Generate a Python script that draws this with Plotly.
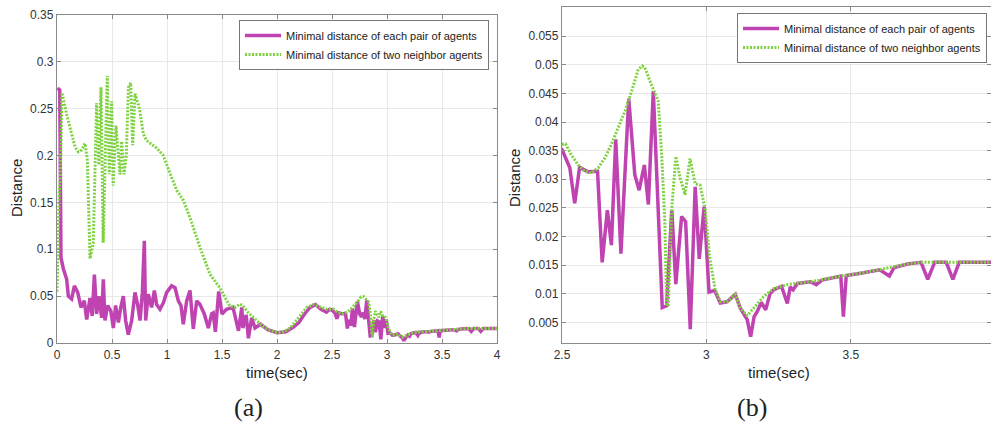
import plotly.graph_objects as go

# ---------------- data ----------------
t_pair = [0.005, 0.025, 0.032, 0.036, 0.058, 0.088, 0.103, 0.133, 0.158, 0.188, 0.218, 0.248,
          0.27, 0.30, 0.32, 0.34, 0.36, 0.38, 0.406, 0.421, 0.436, 0.46, 0.49, 0.512, 0.533,
          0.558, 0.58, 0.603, 0.624, 0.648, 0.679, 0.709, 0.733, 0.755, 0.776, 0.794, 0.806,
          0.83, 0.86, 0.885, 0.906, 0.936, 0.967, 0.997, 1.042, 1.073, 1.103, 1.127, 1.148,
          1.179, 1.209, 1.239, 1.27, 1.30, 1.339, 1.376, 1.406, 1.42, 1.44, 1.47, 1.50, 1.54,
          1.60, 1.65, 1.68, 1.69, 1.72, 1.74, 1.77, 1.80, 1.85, 1.92, 2.0, 2.08, 2.15, 2.2,
          2.25, 2.3, 2.35, 2.4, 2.45, 2.48,
          2.5, 2.527, 2.544, 2.561, 2.59, 2.623, 2.639, 2.657, 2.671, 2.686, 2.704, 2.731,
          2.752, 2.767, 2.785, 2.799, 2.816, 2.847, 2.862, 2.88, 2.894, 2.914, 2.928, 2.944,
          2.961, 2.975, 2.992, 3.009, 3.028, 3.048, 3.071, 3.10, 3.117, 3.141, 3.153, 3.165,
          3.176, 3.19, 3.205, 3.22, 3.233, 3.26, 3.28, 3.29, 3.30, 3.315, 3.36, 3.38, 3.40,
          3.465, 3.474, 3.484, 3.534, 3.60, 3.633, 3.65, 3.696, 3.743, 3.766, 3.79, 3.83,
          3.853, 3.875, 4.0]
d_pair = [0.272, 0.270, 0.160, 0.091, 0.079, 0.068, 0.050, 0.047, 0.061, 0.054, 0.038, 0.045,
          0.025, 0.048, 0.029, 0.073, 0.031, 0.050, 0.027, 0.068, 0.024, 0.040, 0.034, 0.016, 0.040,
          0.022, 0.038, 0.050, 0.024, 0.009, 0.024, 0.054, 0.041, 0.024, 0.054, 0.109, 0.024,
          0.052, 0.038, 0.056, 0.041, 0.036, 0.043, 0.054, 0.061, 0.059, 0.045, 0.040, 0.020,
          0.045, 0.056, 0.015, 0.045, 0.041, 0.031, 0.016, 0.031, 0.032, 0.012, 0.055, 0.031, 0.036,
          0.038, 0.013, 0.038, 0.016, 0.030, 0.005, 0.027, 0.016, 0.020, 0.014, 0.011, 0.012, 0.017, 0.022,
          0.031, 0.038, 0.041, 0.036, 0.033, 0.036,
          0.0352, 0.0320, 0.0258, 0.0321, 0.0313, 0.0314, 0.0155, 0.0246, 0.0185, 0.0370, 0.0170, 0.0441,
          0.0308, 0.0281, 0.0325, 0.0256, 0.0454, 0.0076, 0.0079, 0.0246, 0.0117, 0.0235, 0.0226, 0.0038,
          0.0287, 0.0161, 0.0252, 0.0103, 0.0106, 0.0084, 0.0086, 0.0099, 0.0075, 0.0055, 0.0025, 0.0060,
          0.0069, 0.0085, 0.0072, 0.0100, 0.0107, 0.0113, 0.0083, 0.0112, 0.0107, 0.0118, 0.0121, 0.0116, 0.0124,
          0.0131, 0.0060, 0.0132, 0.0136, 0.0142, 0.0131, 0.0146, 0.0152, 0.0155, 0.0125, 0.0155, 0.0155,
          0.0125, 0.0155, 0.0155]

t_nbr = [0.0, 0.02, 0.03, 0.045, 0.088, 0.133, 0.164, 0.194, 0.225, 0.255, 0.276, 0.30, 0.33,
         0.36, 0.38, 0.40, 0.42, 0.457, 0.475, 0.497, 0.51, 0.536, 0.555, 0.573, 0.588, 0.609,
         0.63, 0.649, 0.67, 0.688, 0.709, 0.75, 0.785, 0.815, 0.906, 0.967, 1.027, 1.088, 1.15,
         1.22, 1.30, 1.39, 1.48, 1.57, 1.62, 1.66, 1.69, 1.74, 1.79, 1.85, 1.92, 2.0, 2.06, 2.12,
         2.21, 2.27, 2.33, 2.4, 2.45,
         2.5, 2.512, 2.532, 2.556, 2.579, 2.602, 2.625, 2.648, 2.671, 2.694, 2.718, 2.741, 2.764,
         2.778, 2.787, 2.804, 2.822, 2.833, 2.845, 2.856, 2.862, 2.868, 2.88, 2.894, 2.909, 2.926,
         2.943, 2.961, 2.978, 2.995, 3.012, 3.03, 3.048, 3.071, 3.10, 3.117, 3.141, 3.164, 3.198,
         3.233, 3.28, 3.326, 3.384, 3.465, 3.534, 3.627, 3.696, 3.743, 4.0]
d_nbr = [0.055, 0.160, 0.175, 0.267, 0.244, 0.225, 0.209, 0.204, 0.206, 0.213, 0.195, 0.090, 0.107,
         0.256, 0.190, 0.273, 0.107, 0.285, 0.180, 0.258, 0.168, 0.232, 0.200, 0.180, 0.215, 0.180,
         0.200, 0.2726, 0.2775, 0.211, 0.266, 0.250, 0.223, 0.216, 0.208, 0.200, 0.181, 0.163, 0.152,
         0.130, 0.102, 0.0735, 0.059, 0.0395, 0.038, 0.0415, 0.040, 0.032, 0.027, 0.020, 0.014, 0.011,
         0.012, 0.016, 0.029, 0.038, 0.041, 0.038, 0.036,
         0.0361, 0.0362, 0.0343, 0.0325, 0.0314, 0.0311, 0.0320, 0.0337, 0.0361, 0.0390, 0.0419, 0.0454,
         0.0492, 0.0498, 0.0495, 0.0472, 0.0451, 0.0437, 0.0343, 0.0226, 0.0082, 0.0079, 0.0249, 0.0340,
         0.0302, 0.0273, 0.0336, 0.0292, 0.0290, 0.0249, 0.0160, 0.0108, 0.0086, 0.0086, 0.0099, 0.0075,
         0.0062, 0.0075, 0.0095, 0.0109, 0.0116, 0.0119, 0.0123, 0.0131, 0.0136, 0.0145, 0.0152, 0.0155,
         0.0155]

name_pair = "Minimal distance of each pair of agents"
name_nbr = "Minimal distance of two neighbor agents"

x_ticks_a = [0, 0.5, 1, 1.5, 2, 2.5, 3, 3.5, 4]
x_labels_a = ["0", "0.5", "1", "1.5", "2", "2.5", "3", "3.5", "4"]
y_ticks_a = [0, 0.05, 0.1, 0.15, 0.2, 0.25, 0.3, 0.35]
y_labels_a = ["0", "0.05", "0.1", "0.15", "0.2", "0.25", "0.3", "0.35"]
x_ticks_b = [2.5, 3, 3.5]
x_labels_b = ["2.5", "3", "3.5"]
y_ticks_b = [0.005, 0.01, 0.015, 0.02, 0.025, 0.03, 0.035, 0.04, 0.045, 0.05, 0.055]
y_labels_b = ["0.005", "0.01", "0.015", "0.02", "0.025", "0.03", "0.035", "0.04", "0.045", "0.05", "0.055"]

# ---------------- figure ----------------
W, H = 991, 424
MAG = "#c043b2"
GRN = "#7ed23f"
FONT = "Liberation Sans, Arial, sans-serif"

fig = go.Figure()
for xa, ya, lg in [("x", "y", "legend"), ("x2", "y2", "legend2")]:
    fig.add_trace(go.Scatter(x=t_pair, y=d_pair, mode="lines", name=name_pair,
                             line=dict(color=MAG, width=3.5), xaxis=xa, yaxis=ya, legend=lg))
    fig.add_trace(go.Scatter(x=t_nbr, y=d_nbr, mode="lines", name=name_nbr,
                             line=dict(color=GRN, width=3, dash="2px,1.5px"), xaxis=xa, yaxis=ya, legend=lg))

ax_common = dict(showgrid=True, gridcolor="#e8e8e8", gridwidth=1, showline=True, linecolor="#8a8a8a",
                 linewidth=1.3, mirror="ticks", ticks="inside", ticklen=4, tickcolor="#8a8a8a",
                 zeroline=False, tickfont=dict(family=FONT, size=12, color="#333"), automargin=False)

def px_x(p):
    return p / W

def px_y(p):
    return (H - p) / H

fig.update_layout(
    width=W, height=H, margin=dict(l=0, r=0, t=0, b=0),
    paper_bgcolor="white", plot_bgcolor="white",
    xaxis=dict(domain=[px_x(57), px_x(497)], range=[0, 4], tickvals=x_ticks_a, ticktext=x_labels_a,
               anchor="y", **ax_common),
    yaxis=dict(domain=[px_y(343), px_y(15)], range=[0, 0.35], tickvals=y_ticks_a, ticktext=y_labels_a,
               anchor="x", **ax_common),
    xaxis2=dict(domain=[px_x(562), 1.0], range=[2.5, 3.985], tickvals=x_ticks_b, ticktext=x_labels_b,
                anchor="y2", **ax_common),
    yaxis2=dict(domain=[px_y(343), px_y(7)], range=[0.0014, 0.0601], tickvals=y_ticks_b, ticktext=y_labels_b,
                anchor="x2", **ax_common),
    legend=dict(x=px_x(489), y=px_y(20), xanchor="right", yanchor="top", bgcolor="white",
                bordercolor="#777", borderwidth=1, font=dict(family=FONT, size=11, color="#222"),
                itemwidth=36, tracegroupgap=0),
    legend2=dict(x=px_x(987), y=px_y(13), xanchor="right", yanchor="top", bgcolor="white",
                 bordercolor="#777", borderwidth=1, font=dict(family=FONT, size=11, color="#222"),
                 itemwidth=36, tracegroupgap=0),
    showlegend=True,
)

ann_font = dict(family=FONT, size=15, color="#222")
serif = dict(family="Liberation Serif, DejaVu Serif, serif", size=26, color="#222")
annotations = [
    dict(text="Distance", x=px_x(16), y=px_y(188), textangle=-90, font=ann_font),
    dict(text="time(sec)", x=px_x(277), y=px_y(372), font=ann_font),
    dict(text="(a)", x=px_x(248), y=px_y(407), font=serif),
    dict(text="Distance", x=px_x(515), y=px_y(178), textangle=-90, font=ann_font),
    dict(text="time(sec)", x=px_x(779), y=px_y(372), font=ann_font),
    dict(text="(b)", x=px_x(752), y=px_y(407), font=serif),
]
for a in annotations:
    a.update(xref="paper", yref="paper", showarrow=False, xanchor="center", yanchor="middle")
fig.update_layout(annotations=annotations)

fig.write_html("out.html")
